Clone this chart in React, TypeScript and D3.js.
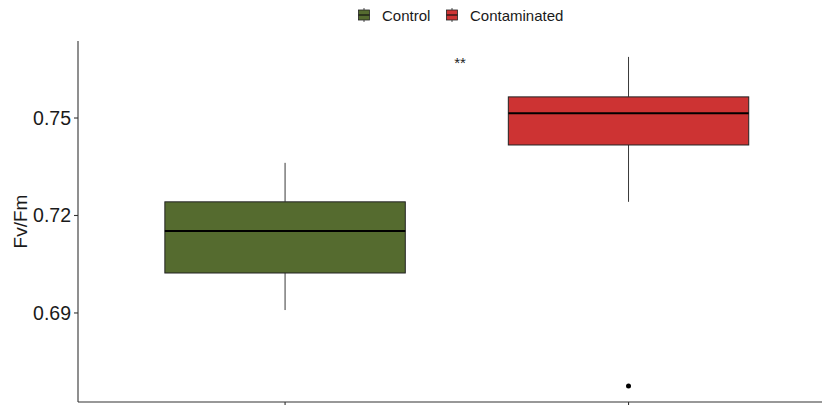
import React from "react";
import * as d3 from "d3";

const categories = ["Control", "Contaminated"];
const colors = ["#556B2F", "#CD3333"];
const lowerWhisker = [0.6909, 0.7242];
const q1 = [0.7023, 0.7417];
const medians = [0.7152, 0.7515];
const q3 = [0.7242, 0.7565];
const upperWhisker = [0.7362, 0.7688];
const outliers = [[], [0.6675]];
const yTicks = [0.69, 0.72, 0.75];
const signif = "**";

const width = 822;
const height = 405;

export default function App() {
  const y = d3.scaleLinear().domain([0.6626, 0.7737]).range([402, 41]);
  // discrete positions 1..n with ggplot-style 0.6 expansion
  const x = d3.scaleLinear().domain([0.4, 2.6]).range([79, 834.6]);
  const boxW = x(1.35) - x(0.65);
  const font = "Liberation Sans, Arial, sans-serif";

  return (
    <svg
      width={width}
      height={height}
      style={{ position: "absolute", left: 0, top: 0 }}
      fontFamily={font}
    >
      <rect width={width} height={height} fill="#fff" />

      {/* legend */}
      <g transform="translate(358,15)">
        {categories.map((c, i) => {
          const ox = i === 0 ? 0 : 88;
          return (
            <g key={c} transform={`translate(${ox},0)`}>
              <line x1={6} x2={6} y1={-7} y2={7} stroke="#222" strokeWidth={0.8} />
              <rect x={0.5} y={-5} width={11} height={10} fill={colors[i]} stroke="#222" strokeWidth={0.8} />
              <line x1={0.5} x2={11.5} y1={0} y2={0} stroke="#111" strokeWidth={1.2} />
              <text x={24} y={5.5} fontSize={15} fill="#1a1a1a">{c}</text>
            </g>
          );
        })}
      </g>

      {/* boxes */}
      {categories.map((c, i) => {
        const cx = x(i + 1);
        return (
          <g key={c}>
            <line x1={cx} x2={cx} y1={y(upperWhisker[i])} y2={y(q3[i])} stroke="#222" strokeWidth={0.9} />
            <line x1={cx} x2={cx} y1={y(q1[i])} y2={y(lowerWhisker[i])} stroke="#222" strokeWidth={0.9} />
            <rect
              x={cx - boxW / 2}
              y={y(q3[i])}
              width={boxW}
              height={y(q1[i]) - y(q3[i])}
              fill={colors[i]}
              stroke="#222"
              strokeWidth={1}
            />
            <line x1={cx - boxW / 2} x2={cx + boxW / 2} y1={y(medians[i])} y2={y(medians[i])} stroke="#000" strokeWidth={2} />
            {outliers[i].map((o, j) => (
              <circle key={j} cx={cx} cy={y(o)} r={2.5} fill="#000" />
            ))}
          </g>
        );
      })}

      <text x={460} y={68} textAnchor="middle" fontSize={15} fill="#222">{signif}</text>

      {/* axes */}
      <line x1={78} x2={78} y1={41} y2={402} stroke="#333" strokeWidth={1.1} />
      <line x1={78} x2={width} y1={402} y2={402} stroke="#333" strokeWidth={1.1} />
      {yTicks.map(t => (
        <g key={t}>
          <line x1={74} x2={78} y1={y(t)} y2={y(t)} stroke="#333" strokeWidth={1.1} />
          <text x={71} y={y(t) + 7} textAnchor="end" fontSize={19.5} fill="#1a1a1a">{d3.format(".2f")(t)}</text>
        </g>
      ))}
      {categories.map((c, i) => (
        <line key={c} x1={x(i + 1)} x2={x(i + 1)} y1={402} y2={406} stroke="#333" strokeWidth={1.1} />
      ))}
      <text
        transform={`translate(27,${(41 + 402) / 2}) rotate(-90)`}
        textAnchor="middle"
        fontSize={19}
        fill="#1a1a1a"
      >
        Fv/Fm
      </text>
    </svg>
  );
}
